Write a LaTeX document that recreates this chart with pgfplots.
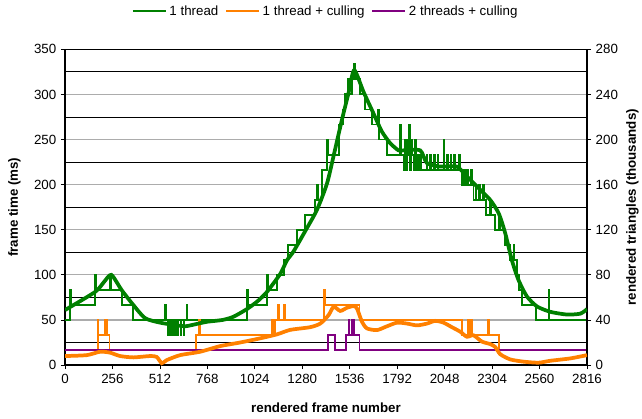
\documentclass[border=0pt]{standalone}
\usepackage{pgfplots}
\pgfplotsset{compat=1.18}
\usepackage{fontspec}
\setmainfont{Liberation Sans}
\definecolor{cgreen}{RGB}{0,128,0}
\definecolor{corange}{RGB}{255,128,0}
\definecolor{cpurple}{RGB}{128,0,128}
\begin{document}
\begin{tikzpicture}
\pgfplotsset{every axis/.append style={font=\fontsize{10}{12}\selectfont},
  /pgf/number format/assume math mode=true, /pgf/number format/1000 sep={}}
\begin{axis}[scale only axis, width=391.5pt, height=236.8pt,
  xmin=0, xmax=2816, ymin=0, ymax=350,
  xtick={0,256,...,2816}, ytick={0,50,...,350}, minor ytick={25,75,...,325},
  ymajorgrids, yminorgrids,
  major grid style={gray!65, line width=0.9pt},
  minor grid style={black, line width=0.6pt},
  xtick pos=bottom, ytick pos=left, tick align=outside,
  major tick length=3pt, minor tick length=0pt,
  tick style={black, line width=0.6pt},
  axis line style={black, line width=0.9pt},
  xlabel={\textbf{rendered frame number}},
  ylabel={\textbf{frame time (ms)}},
  xlabel style={at={(rel axis cs:0.5,0)}, anchor=center, yshift=-32pt},
  ylabel style={at={(rel axis cs:0,0.5)}, anchor=center, yshift=38pt},
  legend style={at={(0.5,1)}, anchor=south, yshift=20pt, draw=white, fill=white,
    legend columns=3, font=\fontsize{10}{12}\selectfont,
    /tikz/every even column/.append style={column sep=3pt}},
  legend image code/.code={\draw[#1, line width=1.5pt] (0cm,0cm) -- (0.87cm,0cm);}]
\addplot[const plot, color=cgreen, line width=1.4pt] coordinates {
(0,50) (27,83.33) (31,66.67) (162,100) (166,83.33) (243,100) (247,83.33)
(306,66.67) (367,50) (540,66.67) (544,50) (555,33.33) (560,50) (572,33.33)
(577,50) (589,33.33) (594,50) (606,33.33) (611,50) (623,33.33) (628,50)
(640,33.33) (645,50) (657,66.67) (661,50) (982,83.33) (986,66.67)
(1091,100) (1095,83.33) (1145,100) (1180,116.67) (1205,133.33) (1250,150)
(1296,166.67) (1350,183.33) (1360,200) (1364,183.33) (1388,216.67)
(1413,250) (1417,233.33) (1476,266.67) (1500,283.33) (1511,300)
(1525,316.67) (1530,300) (1548,316.67) (1558,333.33) (1563,316.67)
(1592,300) (1619,283.33) (1656,266.67) (1690,283.33) (1694,250)
(1737,233.33) (1808,266.67) (1812,233.33) (1826,216.67) (1832,250)
(1838,216.67) (1845,250) (1851,233.33) (1857,266.67) (1861,216.67)
(1868,250) (1874,233.33) (1880,216.67) (1886,250) (1892,216.67)
(1898,233.33) (1904,216.67) (1910,233.33) (1920,216.67) (1950,233.33)
(1955,216.67) (1970,233.33) (1975,216.67) (1990,233.33) (1995,216.67)
(2010,233.33) (2015,216.67) (2042,250) (2046,216.67) (2060,233.33)
(2065,216.67) (2080,233.33) (2085,216.67) (2100,233.33) (2105,216.67)
(2125,233.33) (2132,216.67) (2141,200) (2150,216.67) (2156,200)
(2170,216.67) (2176,200) (2190,216.67) (2195,200) (2204,183.33)
(2215,200) (2220,183.33) (2235,200) (2240,183.33) (2255,200)
(2260,183.33) (2270,166.67) (2294,183.33) (2300,166.67) (2321,150)
(2340,166.67) (2345,150) (2375,133.33) (2402,116.67) (2420,133.33)
(2424,116.67) (2438,100) (2450,83.33) (2465,66.67) (2543,50)
(2609,83.33) (2613,50) (2816,50)
};
\addlegendentry{1 thread}
\addplot[const plot, color=corange, line width=1.4pt] coordinates {
(0,16.67) (176,50) (180,33.33) (216,50) (225,33.33) (240,16.67)
(707,33.33) (720,50) (726,33.33) (1117,50) (1121,33.33) (1126,50)
(1130,33.33) (1134,50) (1150,66.67) (1154,50) (1182,66.67) (1186,50)
(1398,83.33) (1403,66.67) (1589,50) (2141,33.33) (2175,50) (2179,33.33)
(2190,50) (2194,33.33) (2283,50) (2290,33.33) (2343,16.67) (2816,16.67)
};
\addlegendentry{1 thread + culling}
\addplot[const plot, color=cpurple, line width=1.4pt] coordinates {
(0,16.67) (1421,33.33) (1457,16.67) (1517,33.33) (1529,50) (1533,33.33)
(1548,50) (1557,33.33) (1589,16.67) (2816,16.67)
};
\addlegendentry{2 threads + culling}
\coordinate (BL) at (rel axis cs:0,0);
\coordinate (TR) at (rel axis cs:1,1);
\end{axis}
\begin{axis}[scale only axis, width=391.5pt, height=236.8pt,
  xmin=0, xmax=2816, ymin=0, ymax=280,
  axis x line=none, axis y line*=right,
  ytick={0,40,...,280}, tick align=outside, major tick length=3pt,
  tick style={black, line width=0.6pt},
  axis line style={black, line width=0.9pt},
  ylabel={\textbf{rendered triangles (thousands)}},
  ylabel style={at={(rel axis cs:1,0.5)}, anchor=center, rotate=0, yshift=-34pt}]
\addplot[cgreen, line width=2.8pt, smooth, tension=0.4] coordinates {
(0,48.8) (162,64.8) (210,73.6) (250,80) (306,66.4) (369,53.2) (432,41.6)
(513,37.6) (603,35.2) (650,34.4) (720,36.8) (766,38.4) (850,40)
(908,42.8) (981,49.6) (1040,56.8) (1089,64.8) (1161,80.8) (1197,92.8)
(1233,100.8) (1300,120) (1359,137.6) (1413,160.8) (1448,184.8)
(1494,217.6) (1529,240.8) (1560,261.6) (1610,242.4) (1664,223.2)
(1709,207.2) (1754,196.8) (1799,190.4) (1826,190.4) (1916,190.4)
(1952,179.2) (2024,176) (2114,176) (2168,167.2) (2222,158.4)
(2294,146.4) (2340,134.4) (2375,116.8) (2411,92.8) (2447,75.2)
(2492,60.8) (2546,52) (2618,47.2) (2708,44.8) (2780,45.6) (2816,49.6)
};
\addplot[corange, line width=2.8pt, smooth, tension=0.4] coordinates {
(0,8) (117,8.8) (189,11.8) (243,11) (297,8) (369,6.8) (459,8) (495,7.2)
(522,1.6) (549,4.4) (621,8.8) (729,11.8) (837,16.8) (945,20) (1053,23.7)
(1143,27.2) (1215,31.2) (1323,33.6) (1377,36.8) (1422,44.3) (1449,51.7)
(1485,48) (1521,50.8) (1557,52.3) (1575,50.2) (1602,38.4) (1629,32.5)
(1683,31) (1737,34.4) (1791,37.6) (1845,36.8) (1899,35.2) (1953,36.8)
(1997,39.2) (2042,37.6) (2087,33.6) (2132,29.6) (2168,25.1) (2204,26.4)
(2249,20.8) (2294,18.6) (2321,16) (2348,9.6) (2402,5) (2474,3)
(2555,2.1) (2618,3.8) (2726,5.9) (2816,8.8)
};
\end{axis}
\pgfresetboundingbox
\path[use as bounding box] ([shift={(-48.75pt,-39.75pt)}]BL) rectangle ([shift={(41.25pt,37pt)}]TR);
\end{tikzpicture}
\end{document}
